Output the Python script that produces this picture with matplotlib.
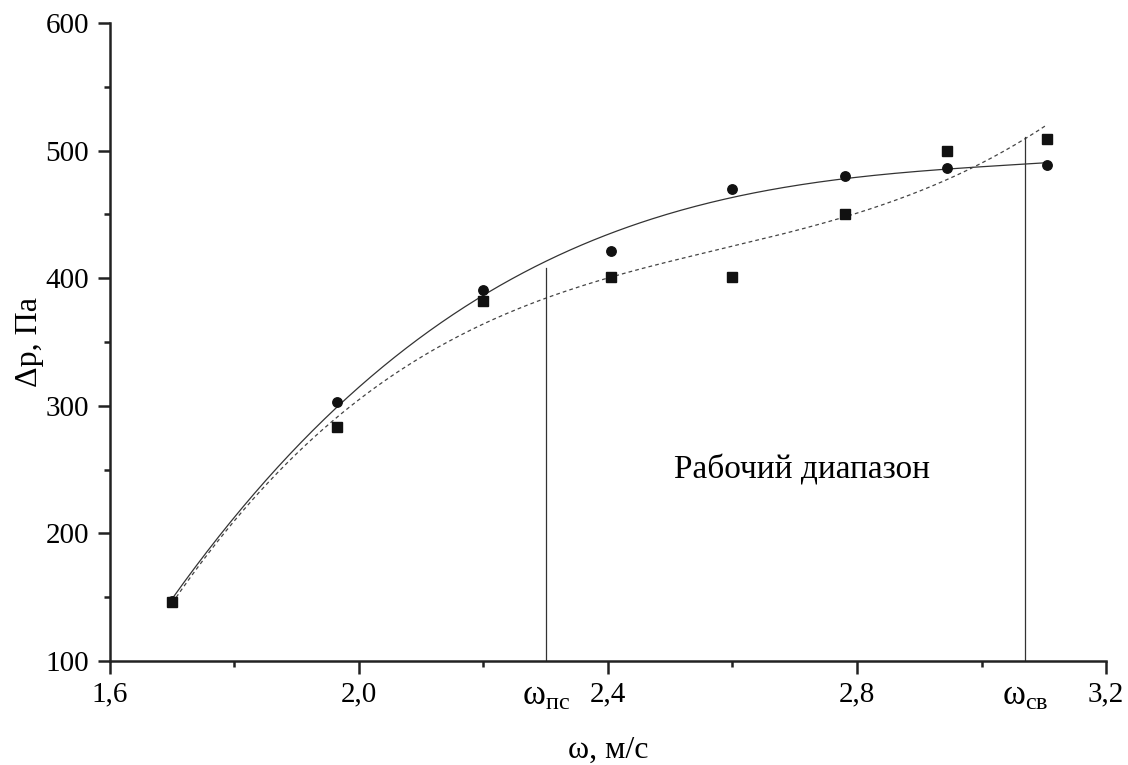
import numpy as np
import matplotlib
matplotlib.use('Agg')
from matplotlib import pyplot as plt
from matplotlib.ticker import MultipleLocator, FixedFormatter, FixedLocator
from matplotlib.transforms import blended_transform_factory

plt.rcParams['font.family'] = ['Liberation Serif', 'DejaVu Serif']
plt.rcParams['mathtext.fontset'] = 'custom'
plt.rcParams['mathtext.rm'] = 'Liberation Serif'
plt.rcParams['mathtext.it'] = 'Liberation Serif:italic'

w = [1.70, 1.965, 2.20, 2.405, 2.60, 2.78, 2.945, 3.105]
dp_circ = [147, 303, 391, 421, 470, 480, 486, 489]
dp_sq   = [146, 283, 382, 401, 401, 450, 500, 509]

# working range boundaries
w_bounds = [2.30, 3.07]
bound_top = [408, 511]
bound_labels = [r'$\mathrm{ω_{пс}}$', r'$\mathrm{ω_{св}}$']

x_ticks = [1.6, 2.0, 2.4, 2.8, 3.2]
x_ticklabels = ['1,6', '2,0', '2,4', '2,8', '3,2']

fig = plt.figure(figsize=(11.28, 7.65), dpi=100)
ax = fig.add_axes([0.0975, 0.136, 0.883, 0.834])

# polynomial fits of both series (as in the original)
xs = np.linspace(min(w), max(w), 300)
p_circ = np.polyfit(w, dp_circ, 3)
p_sq = np.polyfit(w, dp_sq, 3)
ax.plot(xs, np.polyval(p_circ, xs), '-', color='#333333', lw=0.9)
ax.plot(xs, np.polyval(p_sq, xs), '--', color='#444444', lw=0.9, dashes=(3, 2.5))

ax.plot(w, dp_circ, 'o', color='#111111', ms=6.8, ls='none')
ax.plot(w, dp_sq, 's', color='#111111', ms=7, ls='none')

for xb, yb in zip(w_bounds, bound_top):
    ax.plot([xb, xb], [100, yb], '-', color='#333333', lw=0.9)

ax.text(2.712, 250, 'Рабочий диапазон', fontsize=24, ha='center', va='center')

ax.set_xlim(1.6, 3.2)
ax.set_ylim(100, 600)
ax.xaxis.set_major_locator(FixedLocator(x_ticks))
ax.xaxis.set_major_formatter(FixedFormatter(x_ticklabels))
ax.xaxis.set_minor_locator(MultipleLocator(0.2))
ax.yaxis.set_major_locator(MultipleLocator(100))
ax.yaxis.set_minor_locator(MultipleLocator(50))

for s in ['top', 'right']:
    ax.spines[s].set_visible(False)
for s in ['left', 'bottom']:
    ax.spines[s].set_linewidth(1.8)
    ax.spines[s].set_color('#222222')

ax.tick_params(which='major', direction='out', length=9, width=1.8, labelsize=21, pad=6, color='#222222')
ax.tick_params(which='minor', direction='out', length=4, width=1.8, color='#222222')

trans = blended_transform_factory(ax.transData, ax.transAxes)
for xb, lab in zip(w_bounds, bound_labels):
    ax.text(xb, -0.03, lab, transform=trans, fontsize=25, ha='center', va='top')

ax.set_xlabel('ω, м/с', fontsize=23, labelpad=20)
ax.set_ylabel('Δр, Па', fontsize=23, labelpad=1)

fig.savefig('out.png', dpi=100)
